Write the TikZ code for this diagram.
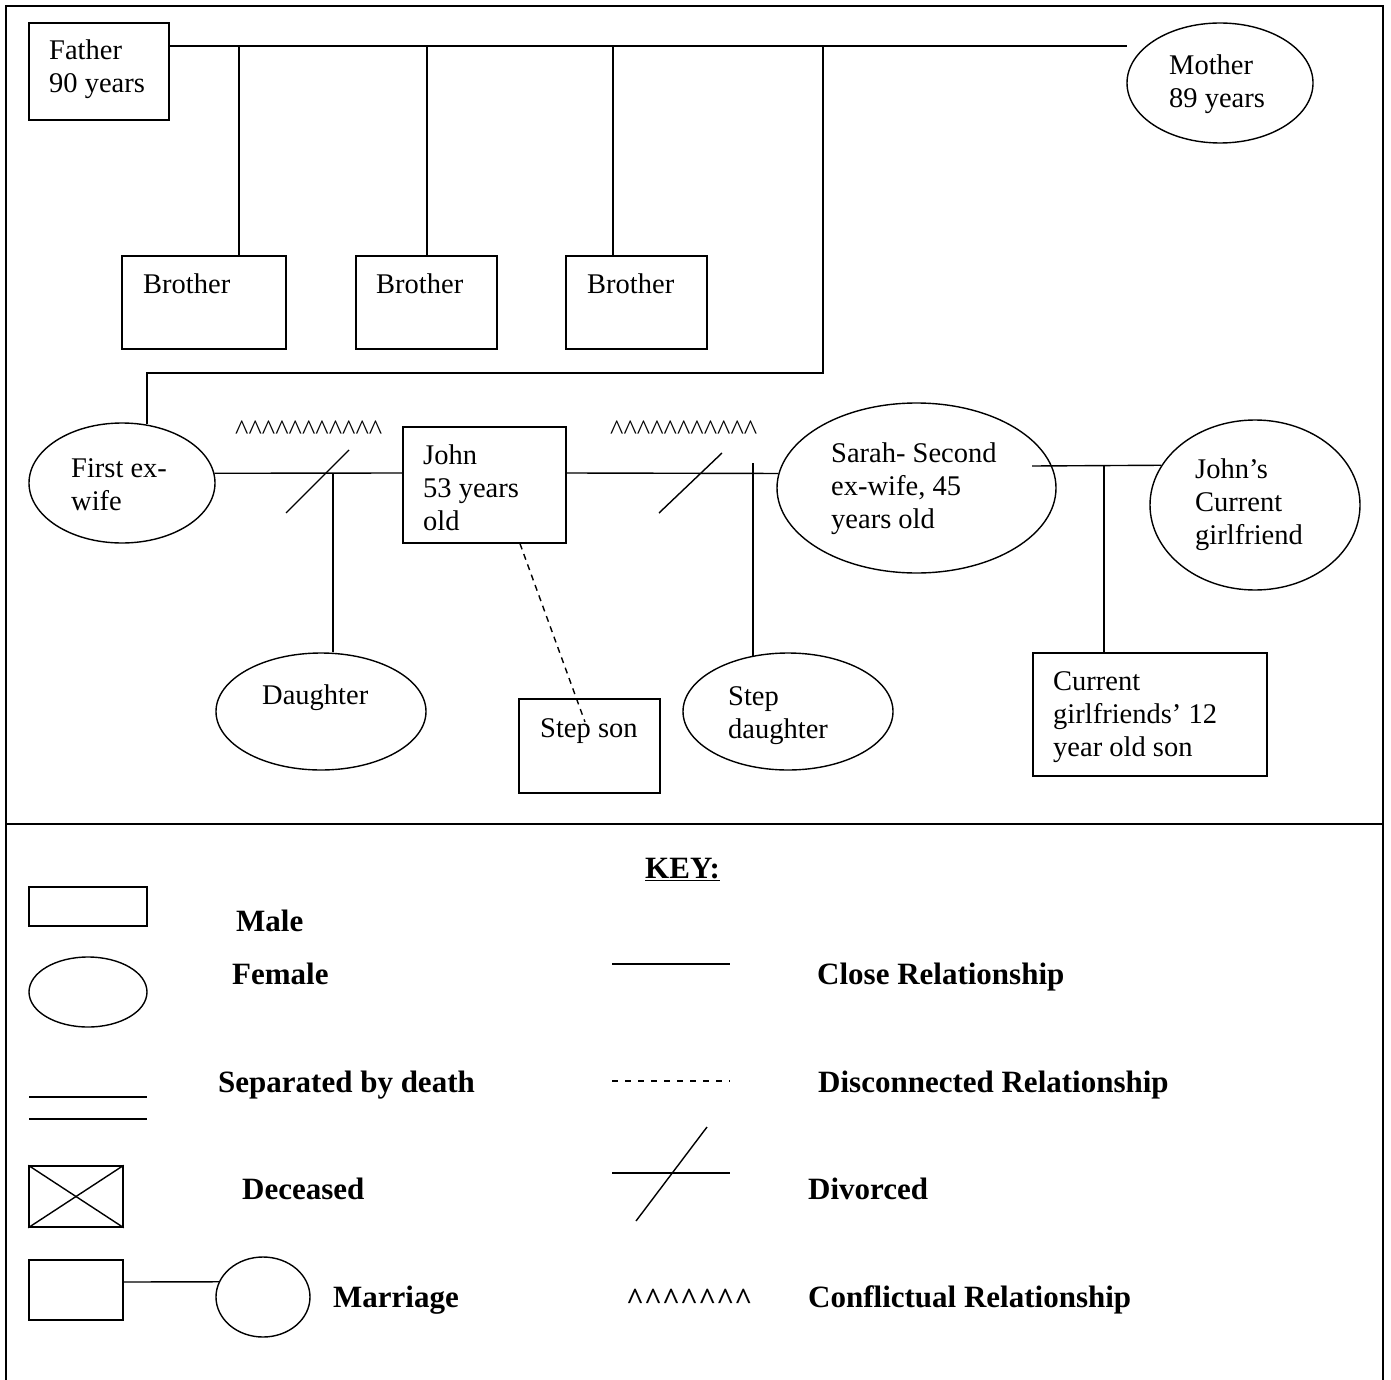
\documentclass[tikz,border=0pt]{standalone}
\usepackage{fontspec}
\setmainfont{Liberation Serif}
\usetikzlibrary{shapes.geometric}
\newcommand\hatmark{\textasciicircum}
\newcommand\hatsxi{\hatmark\hatmark\hatmark\hatmark\hatmark\hatmark\hatmark\hatmark\hatmark\hatmark\hatmark}
\newcommand\hatsvii{\hatmark\hatmark\hatmark\hatmark\hatmark\hatmark\hatmark}
\begin{document}
\begin{tikzpicture}[x=1pt,y=-1pt,
  male/.style={draw, rectangle, line width=1.4pt, inner sep=0pt, minimum width=#1},
  female/.style={draw, ellipse, line width=1.4pt, inner sep=0pt},
  rel/.style={line width=1.4pt},
  apart/.style={line width=1.4pt, dash pattern=on 6pt off 5pt},
  txt/.style={anchor=north west, inner sep=0pt, align=left,
    font=\fontsize{28.5}{33}\selectfont},
  hats/.style={anchor=base west, inner sep=0pt, font=\fontsize{28.5}{33}\selectfont},
  keytxt/.style={anchor=base west, inner sep=0pt, font=\fontsize{31}{36}\selectfont\bfseries},
  frame/.style={line width=1.8pt}]
\useasboundingbox (0,0) rectangle (1391,1380);

% outer frame and divider between tree and key
\draw[frame] (6,1380) -- (6,6) -- (1383,6) -- (1383,1380);
\draw[frame] (6,824) -- (1383,824);

% ---------- family tree ----------
\node[male=140pt, minimum height=97pt] (father) at (99,71.5) {};
\node[female, minimum width=186pt, minimum height=120pt] (mother) at (1220,83) {};
\node[male=164pt, minimum height=93pt] (bro1) at (204,302.5) {};
\node[male=141pt, minimum height=93pt] (bro2) at (426.5,302.5) {};
\node[male=141pt, minimum height=93pt] (bro3) at (636.5,302.5) {};
\node[female, minimum width=186pt, minimum height=120pt] (exwife) at (122,483) {};
\node[male=163pt, minimum height=116pt] (john) at (484.5,485) {};
\node[female, minimum width=279pt, minimum height=170pt] (sarah) at (916.5,488) {};
\node[female, minimum width=210pt, minimum height=170pt] (gf) at (1255,505) {};
\node[female, minimum width=210pt, minimum height=117pt] (daughter) at (321,711.5) {};
\node[male=141pt, minimum height=94pt] (stepson) at (589.5,746) {};
\node[female, minimum width=210pt, minimum height=117pt] (stepd) at (788,711.5) {};
\node[male=234pt, minimum height=123pt] (gfson) at (1150,714.5) {};

% labels
\node[txt] (father-t) at (49,40) {Father\\90 years};
\node[txt] (mother-t) at (1169,55) {Mother\\89 years};
\node[txt] (bro1-t) at (143,274) {Brother};
\node[txt] (bro2-t) at (376,274) {Brother};
\node[txt] (bro3-t) at (587,274) {Brother};
\node[txt] (exwife-t) at (71,458) {First ex-\\wife};
\node[txt] (john-t) at (423,445) {John\\53 years\\old};
\node[txt] (sarah-t) at (831,443) {Sarah- Second\\ex-wife, 45\\years old};
\node[txt] (gf-t) at (1195,459) {John’s\\Current\\girlfriend};
\node[txt] (daughter-t) at (262,685) {Daughter};
\node[txt] (stepson-t) at (540,718) {Step son};
\node[txt] (stepd-t) at (728,686) {Step\\daughter};
\node[txt] (gfson-t) at (1053,671) {Current\\girlfriends’ 12\\year old son};

% parents and their sons
\coordinate (parents) at (1127,46);
\draw[rel] (father.east |- parents) -- (parents);
\draw[rel] ([xshift=35pt]bro1.north) -- ([xshift=35pt]bro1.north |- parents);
\draw[rel] ([xshift=0.5pt]bro2.north) -- ([xshift=0.5pt]bro2.north |- parents);
\draw[rel] ([xshift=-23.5pt]bro3.north) -- ([xshift=-23.5pt]bro3.north |- parents);
\coordinate (drop) at (823,373);
\draw[rel] (drop |- parents) -- (drop) -| (exwife.67.5);

% John's marriages
\coordinate (jline) at ([yshift=12pt]john.west);
\draw[rel] (exwife.6) -- (jline);
\draw[rel] ([yshift=12pt]john.east) -- (sarah.174);
\draw[rel] (286,513) -- (349,450);
\draw[rel] (659,513) -- (722,453);
\node[hats] (conf1) at (235,439) {\hatsxi};
\node[hats] (conf2) at (610,439) {\hatsxi};

% children
\coordinate (dline) at ([xshift=12pt]daughter.north);
\draw[rel] (dline |- jline) -- (dline);
\coordinate (sdline) at (753,463);
\draw[rel] (stepd.122 |- sdline) -- (stepd.122);
\coordinate (sonend) at (585,722);
\draw[apart] ([xshift=35.5pt]john.south) -- (sonend);

% current girlfriend and her son
\coordinate (gfline) at (1032,466);
\draw[rel] (gfline) -- (gf.157);
\draw[rel] ([xshift=-46pt]gfson.north) -- ([xshift=-46pt]gfson.north |- gfline);

% ---------- key ----------
\node[keytxt] (key) at (645,878.5) {\underline{KEY:}};

\node[male=118pt, minimum height=39pt] (kmale) at (88,906.5) {};
\node[keytxt] (kmale-t) at (236,931.5) {Male};

\node[female, minimum width=118pt, minimum height=70pt] (kfemale) at (88,992) {};
\node[keytxt] (kfemale-t) at (232,984.5) {Female};

\draw[rel] (29,1097) -- (147,1097);
\draw[rel] (29,1119) -- (147,1119);
\node[keytxt] (ksep-t) at (218,1092.5) {Separated by death};

\node[male=94pt, minimum height=61pt] (kdead) at (76,1196.5) {};
\draw[rel] (kdead.north west) -- (kdead.south east);
\draw[rel] (kdead.south west) -- (kdead.north east);
\node[keytxt] (kdead-t) at (242,1199.5) {Deceased};

\node[male=94pt, minimum height=60pt] (kmbox) at (76,1290) {};
\node[female, minimum width=94pt, minimum height=80pt] (kmcirc) at (263,1297) {};
\draw[rel] ([yshift=8pt]kmbox.east) -- (kmcirc.161);
\node[keytxt] (kmarr-t) at (333,1307.5) {Marriage};

\draw[rel] (612,964) -- (730,964);
\node[keytxt] (kclose-t) at (817,984.5) {Close Relationship};

\draw[line width=1.4pt, dash pattern=on 6pt off 7pt] (612,1081) -- (730,1081);
\node[keytxt] (kdisc-t) at (818,1092.5) {Disconnected Relationship};

\draw[rel] (612,1173) -- (730,1173);
\draw[rel] (636,1221) -- (707,1127);
\node[keytxt] (kdiv-t) at (808,1199.5) {Divorced};

\node[keytxt] (khats) at (626,1309) {\hatsvii};
\node[keytxt] (kconf-t) at (808,1307.5) {Conflictual Relationship};
\end{tikzpicture}
\end{document}
